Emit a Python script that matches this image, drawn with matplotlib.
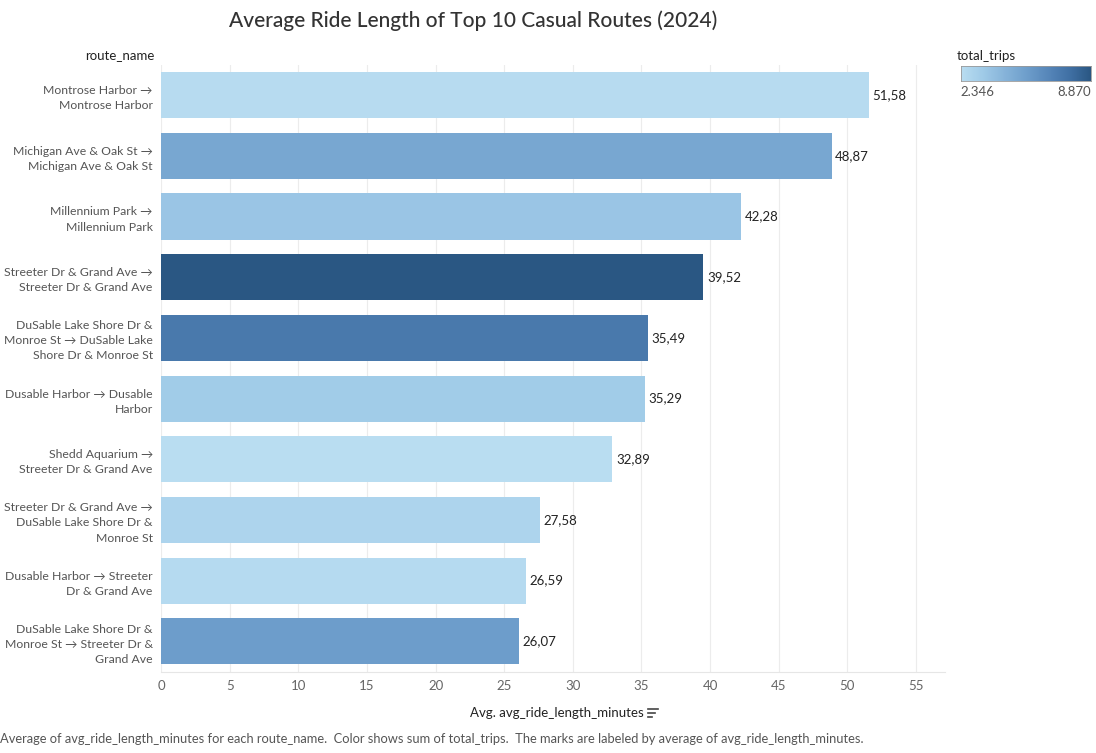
import matplotlib
matplotlib.use("Agg")
import matplotlib.pyplot as plt
from matplotlib.colors import LinearSegmentedColormap, Normalize
from matplotlib.lines import Line2D
import numpy as np

plt.rcParams['font.family'] = ['Lato', 'DejaVu Sans']

routes = [
    "Montrose Harbor →\nMontrose Harbor",
    "Michigan Ave & Oak St →\nMichigan Ave & Oak St",
    "Millennium Park →\nMillennium Park",
    "Streeter Dr & Grand Ave →\nStreeter Dr & Grand Ave",
    "DuSable Lake Shore Dr &\nMonroe St → DuSable Lake\nShore Dr & Monroe St",
    "Dusable Harbor → Dusable\nHarbor",
    "Shedd Aquarium →\nStreeter Dr & Grand Ave",
    "Streeter Dr & Grand Ave →\nDuSable Lake Shore Dr &\nMonroe St",
    "Dusable Harbor → Streeter\nDr & Grand Ave",
    "DuSable Lake Shore Dr &\nMonroe St → Streeter Dr &\nGrand Ave",
]
avg_len = [51.58, 48.87, 42.28, 39.52, 35.49, 35.29, 32.89, 27.58, 26.59, 26.07]
total_trips = [2450, 5200, 3700, 8870, 7400, 3400, 2346, 2900, 2500, 5700]
xticks = [0, 5, 10, 15, 20, 25, 30, 35, 40, 45, 50, 55]

cmap = LinearSegmentedColormap.from_list(
    "tblue", ['#b9ddf1', '#a0cbe8', '#87b4da', '#6f9fcc', '#5787ba', '#4171a5', '#2a5783'])
norm = Normalize(vmin=min(total_trips), vmax=max(total_trips))

fig = plt.figure(figsize=(10.96, 7.53), dpi=100)
ax = fig.add_axes([0.147, 0.108, 0.715, 0.806])

y = np.arange(len(routes))
colors = [cmap(norm(v)) for v in total_trips]
ax.barh(y, avg_len, height=0.76, color=colors, zorder=3)
for yi, v in zip(y, avg_len):
    ax.text(v + 0.25, yi, f"{v:.2f}".replace('.', ','), va='center', ha='left',
            fontsize=9.5, color='#222222', zorder=4)

ax.set_ylim(len(routes) - 0.5, -0.5)
ax.set_xlim(0, 57.1)
ax.set_xticks(xticks)
ax.set_xticklabels([str(t) for t in xticks], fontsize=9.5, color='#666666')
ax.set_yticks(y)
ax.set_yticklabels(routes, fontsize=8.85, color='#555555', linespacing=1.45)
ax.tick_params(axis='both', length=0, pad=6)
ax.tick_params(axis='y', pad=6)
ax.grid(axis='x', color='#ececec', linewidth=0.8, zorder=0)
for s in ['top', 'right', 'left']:
    ax.spines[s].set_visible(False)
ax.spines['bottom'].set_color('#e6e6e6')

fig.text(0.432, 0.972, "Average Ride Length of Top 10 Casual Routes (2024)",
         ha='center', va='center', fontsize=15, color='#333333', fontweight='medium')
fig.text(0.141, 0.927, "route_name", ha='right', va='center', fontsize=9.5,
         color='#222222')
fig.text(0.508, 0.053, "Avg. avg_ride_length_minutes", ha='center', va='center',
         fontsize=9.5, color='#222222')
# sort icon
for i, w in enumerate([0.009, 0.0065, 0.004]):
    yy = 0.059 - i * 0.0055
    fig.add_artist(Line2D([0.591, 0.591 + w], [yy, yy], color='#444444', lw=1.2))
fig.text(0.0, 0.01, "Average of avg_ride_length_minutes for each route_name.  Color shows sum of total_trips.  "
         "The marks are labeled by average of avg_ride_length_minutes.",
         ha='left', va='bottom', fontsize=9.3, color='#555555')

# colour legend
fig.text(0.873, 0.926, "total_trips", ha='left', va='center', fontsize=9.5, color='#222222')
cax = fig.add_axes([0.877, 0.893, 0.118, 0.019])
grad = np.linspace(0, 1, 256).reshape(1, -1)
cax.imshow(grad, aspect='auto', cmap=cmap, extent=[0, 1, 0, 1])
cax.set_xticks([]); cax.set_yticks([])
for s in cax.spines.values():
    s.set_color('#999999'); s.set_linewidth(0.6)
fig.text(0.876, 0.878, f"{min(total_trips):,}".replace(',', '.'), ha='left', va='center',
         fontsize=9.5, color='#555555')
fig.text(0.995, 0.878, f"{max(total_trips):,}".replace(',', '.'), ha='right', va='center',
         fontsize=9.5, color='#555555')

fig.savefig("out.png", dpi=100)
